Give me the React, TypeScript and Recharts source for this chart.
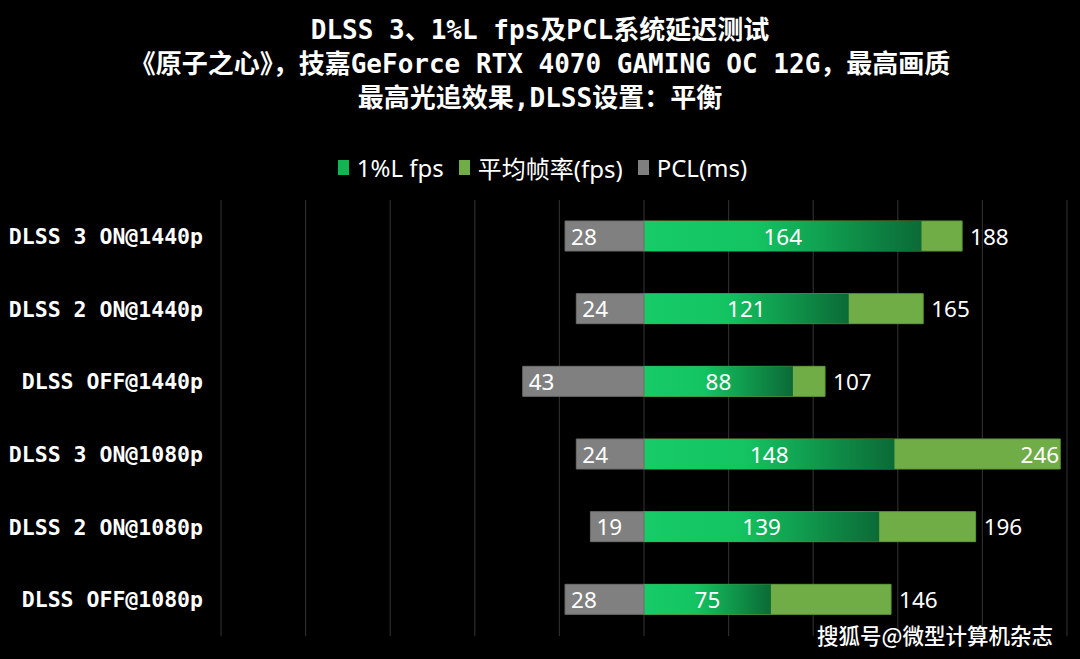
import React from 'react'
import { BarChart, Bar, XAxis, YAxis, CartesianGrid, LabelList } from 'recharts'

const categories = [
  'DLSS 3 ON@1440p',
  'DLSS 2 ON@1440p',
  'DLSS OFF@1440p',
  'DLSS 3 ON@1080p',
  'DLSS 2 ON@1080p',
  'DLSS OFF@1080p',
]
const lowFps = [164, 121, 88, 148, 139, 75]
const avgFps = [188, 165, 107, 246, 196, 146]
const pclMs = [28, 24, 43, 24, 19, 28]

const fpsDomain = [-250, 250]
const fpsTicks = [-250, -200, -150, -100, -50, 0, 50, 100, 150, 200, 250]
const seriesNames = ['1%L fps', '平均帧率(fps)', 'PCL(ms)']
const titleLines = [
  'DLSS 3、1%L fps及PCL系统延迟测试',
  '《原子之心》，技嘉GeForce RTX 4070 GAMING OC 12G，最高画质',
  '最高光追效果,DLSS设置：平衡',
]

const data = categories.map((name, i) => ({
  name,
  low: lowFps[i],
  avg: avgFps[i],
  pcl: pclMs[i],
}))

const W = 1080
const H = 659
const labelFont = '"Noto Sans", "Noto Sans CJK SC", sans-serif'
const monoFont = '"DejaVu Sans Mono", "Noto Sans CJK SC", monospace'

const box = (p: any) => {
  const left = Math.min(p.x, p.x + p.width)
  const right = Math.max(p.x, p.x + p.width)
  return { left, right, cy: p.y + p.height / 2 }
}

const PclLabel = (p: any) => {
  const b = box(p)
  return (
    <text x={b.left + 6} y={b.cy} fill="#fff" fontSize={22.5} fontFamily={labelFont} dominantBaseline="central">
      {p.value}
    </text>
  )
}

const LowLabel = (p: any) => {
  const b = box(p)
  return (
    <text x={(b.left + b.right) / 2} y={b.cy} fill="#fff" fontSize={22.5} fontFamily={labelFont} textAnchor="middle" dominantBaseline="central">
      {p.value}
    </text>
  )
}

const AvgLabel = (p: any) => {
  const b = box(p)
  const inside = b.right + 45 > W
  return (
    <text
      x={inside ? b.right - 1 : b.right + 8}
      y={b.cy}
      fill="#fff"
      fontSize={22.5}
      fontFamily={labelFont}
      textAnchor={inside ? 'end' : 'start'}
      dominantBaseline="central"
    >
      {p.value}
    </text>
  )
}

const legendColors = ['#12b552', '#70ad47', '#7f7f7f']

// grid lines at the fps ticks
const gridX = (props: any) => {
  const scale = props?.xAxis?.scale
  if (typeof scale === 'function') return fpsTicks.map((t) => scale(t))
  if (scale && typeof scale.map === 'function') return fpsTicks.map((t) => scale.map(t))
  const off = props?.offset
  if (!off) return []
  return fpsTicks.map((t) => off.left + ((t - fpsDomain[0]) / (fpsDomain[1] - fpsDomain[0])) * off.width)
}

export default function App() {
  return (
    <div style={{ position: 'absolute', left: 0, top: 0, width: W, height: H, background: '#000', overflow: 'hidden' }}>
      <div style={{ position: 'absolute', top: 13, left: 0, width: W, textAlign: 'center', color: '#fff', fontFamily: monoFont, fontWeight: 'bold', fontSize: 26, lineHeight: '34px' }}>
        {titleLines.map((t) => (
          <div key={t}>{t}</div>
        ))}
      </div>
      <div style={{ position: 'absolute', top: 150, left: 10, width: W, display: 'flex', justifyContent: 'center', alignItems: 'center', fontFamily: labelFont, fontSize: 24, color: '#fff' }}>
        {seriesNames.map((n, i) => (
          <div key={n} style={{ display: 'flex', alignItems: 'center', marginRight: 15 }}>
            <span style={{ display: 'inline-block', width: 11, height: 15, background: legendColors[i], marginRight: 8 }} />
            <span>{n}</span>
          </div>
        ))}
      </div>
      <BarChart
        width={W}
        height={H}
        data={data}
        layout="vertical"
        margin={{ top: 200, right: 13, bottom: 23, left: 0 }}
      >
        <defs>
          <linearGradient id="lowGrad" x1="0" y1="0" x2="1" y2="0">
            <stop offset="0%" stopColor="#16cb68" />
            <stop offset="40%" stopColor="#14c462" />
            <stop offset="100%" stopColor="#0b6a36" />
          </linearGradient>
        </defs>
        <XAxis xAxisId="fps" type="number" domain={fpsDomain} ticks={fpsTicks} height={0} tick={{ fill: 'transparent' }} axisLine={false} tickLine={false} />
        <XAxis xAxisId="pcl" type="number" domain={[-150, 150]} reversed hide />
        <YAxis
          yAxisId="cat"
          type="category"
          dataKey="name"
          width={221}
          axisLine={false}
          tickLine={false}
          tickSize={0}
          tickMargin={18}
          tick={{ fill: '#fff', fontSize: 21.5, fontFamily: monoFont, fontWeight: 'bold' }}
        />
        <YAxis yAxisId="low" type="category" dataKey="name" hide />
        <YAxis yAxisId="pcl" type="category" dataKey="name" hide />
        <CartesianGrid xAxisId="fps" yAxisId="cat" horizontal={false} stroke="#2c2c2c" strokeWidth={1.2} verticalCoordinatesGenerator={gridX} />
        <Bar xAxisId="fps" yAxisId="cat" dataKey="avg" name={seriesNames[1]} fill="#70ad47" stroke="#5f9a3a" strokeWidth={1} barSize={30} isAnimationActive={false}>
          <LabelList dataKey="avg" content={<AvgLabel />} />
        </Bar>
        <Bar xAxisId="fps" yAxisId="low" dataKey="low" name={seriesNames[0]} fill="url(#lowGrad)" barSize={30} isAnimationActive={false}>
          <LabelList dataKey="low" content={<LowLabel />} />
        </Bar>
        <Bar xAxisId="pcl" yAxisId="pcl" dataKey="pcl" name={seriesNames[2]} fill="#808080" stroke="#6e6e6e" strokeWidth={1} barSize={30} isAnimationActive={false}>
          <LabelList dataKey="pcl" content={<PclLabel />} />
        </Bar>
      </BarChart>
      <div style={{ position: 'absolute', right: 27, top: 619, color: '#fff', fontFamily: '"Noto Sans CJK SC", sans-serif', fontSize: 21.5, fontWeight: 500 }}>
        搜狐号@微型计算机杂志
      </div>
    </div>
  )
}
